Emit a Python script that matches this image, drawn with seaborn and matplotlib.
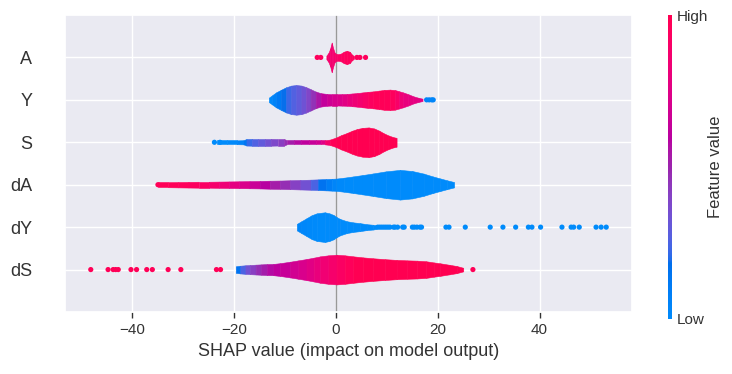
import numpy as np
import pandas as pd
import matplotlib
matplotlib.use("Agg")
import matplotlib.pyplot as plt
from matplotlib.colors import LinearSegmentedColormap, Normalize
from matplotlib.cm import ScalarMappable
import seaborn as sns

# features, top to bottom
features = ["A", "Y", "S", "dA", "dY", "dS"]

# violin outlines: (shap value, relative half width, feature value 0..1)
violin_A = [(-1.9, .12, .9), (-1.5, .3, .88), (-1.15, .6, .86), (-0.85, 1.0, .86),
            (-0.55, .6, .86), (-0.25, .3, .88), (0.2, .22, .9), (0.9, .25, .92),
            (1.5, .38, .94), (2.1, .45, .95), (2.7, .38, .95), (3.1, .2, .95),
            (3.5, .1, .95)]
violin_Y = [(-13.2, .15, .0), (-12.6, .3, .03), (-11.8, .5, .08), (-10.8, .68, .16),
            (-9.8, .85, .21), (-8.8, .96, .25), (-7.8, 1.0, .28), (-6.8, .96, .31),
            (-5.9, .86, .36), (-5.0, .72, .42), (-4.0, .56, .5), (-3.0, .45, .6),
            (-1.8, .4, .66), (-0.8, .38, .69), (0.2, .38, .72), (1.2, .39, .74),
            (2.2, .4, .78), (3.2, .43, .82), (4.2, .46, .85), (5.2, .5, .88),
            (6.2, .54, .92), (7.3, .57, .95), (8.4, .62, .97), (9.5, .67, .97),
            (10.6, .69, .96), (11.6, .66, .94), (12.4, .58, .86), (13.2, .5, .8),
            (14.2, .38, .79), (15.2, .24, .78), (16.2, .14, .77), (17.0, .08, .76)]
violin_S = [(-23.4, .13, .0), (-21.5, .13, .0), (-19.5, .13, .03), (-18.2, .14, .08),
            (-17.6, .22, .2), (-16.5, .23, .24), (-15.3, .23, .28), (-14.0, .23, .32),
            (-12.8, .23, .36), (-11.5, .22, .4), (-10.2, .22, .44), (-9.7, .14, .5),
            (-8.2, .14, .55), (-6.8, .14, .6), (-5.4, .14, .63), (-4.0, .14, .66),
            (-3.0, .14, .7), (-2.2, .14, .8), (-1.2, .18, .95), (0.0, .32, 1),
            (1.0, .48, 1), (2.1, .62, 1), (3.1, .77, 1), (4.1, .89, 1), (5.2, .97, 1),
            (6.4, 1.0, 1), (7.5, .93, 1), (8.5, .78, 1), (9.3, .62, 1), (10.3, .46, 1),
            (11.3, .34, 1), (11.9, .3, 1)]
violin_dA = [(-34.9, .17, .97), (-33, .17, .97), (-31, .18, .96), (-29, .19, .95),
             (-27, .2, .93), (-25, .2, .9), (-23, .21, .86), (-21, .22, .8),
             (-19, .23, .75), (-17, .24, .69), (-15, .25, .62), (-13, .27, .56),
             (-11, .28, .5), (-9, .3, .44), (-7, .32, .38), (-5, .34, .3),
             (-3.5, .36, .2), (-2, .38, .12), (-0.8, .4, .06), (0, .41, .02),
             (1.5, .47, 0), (3.4, .56, 0), (5.2, .65, 0), (7.3, .76, 0), (9.8, .9, 0),
             (12.6, 1.0, 0), (15, .92, 0), (17.2, .75, 0), (19, .56, 0), (20.5, .42, 0),
             (21.8, .3, 0), (23.2, .18, 0)]
violin_dY = [(-7.7, .22, .04), (-6.8, .4, .03), (-5.8, .6, .02), (-4.8, .8, .01),
             (-3.8, .93, 0), (-2.2, 1.0, 0), (-1.3, .93, 0), (-0.5, .82, 0),
             (0.2, .66, 0), (0.8, .55, 0), (2.1, .4, 0), (3.4, .32, 0), (4.7, .27, 0),
             (6.0, .2, 0), (7.3, .16, 0), (8.0, .12, 0)]
violin_dS = [(-19.7, .22, .12), (-18.8, .26, .2), (-17.8, .29, .3), (-16.9, .31, .38),
             (-15.8, .33, .45), (-14.7, .35, .5), (-13.6, .37, .55), (-12.3, .38, .6),
             (-11.0, .43, .62), (-9.0, .53, .67), (-7.4, .62, .7), (-5.8, .71, .73),
             (-4.4, .8, .78), (-3.1, .89, .82), (-1.5, .96, .86), (0.1, 1.0, .9),
             (1.7, .96, .94), (3.4, .89, .98), (5.3, .82, 1), (7.3, .76, 1),
             (9.6, .7, 1), (11.9, .65, 1), (14.0, .62, 1), (15.9, .6, 1),
             (17.7, .56, 1), (19.2, .48, 1), (20.5, .42, 1), (22.3, .32, 1),
             (23.7, .24, 1), (25.0, .12, 1)]

# low density points: (shap value, feature value)
dots_A = [(-3.7, .95), (-3.0, .95), (4.1, .95), (4.7, .95), (5.8, .95)]
dots_Y = [(17.8, .04), (18.3, .04), (18.8, .04), (19.1, .04)]
dots_S = [(-23.9, .0), (-22.8, .0)]
dots_dA = [(-35.0, .97)]
dots_dY = [(8.2, 0), (8.6, 0), (9.0, 0), (9.4, 0), (9.8, 0), (10.2, 0), (10.6, 0),
           (11.3, 0), (11.6, 0), (12.1, 0), (13.1, 0), (13.4, 0), (15.0, 0),
           (15.4, 0), (15.9, 0), (16.5, 0), (16.8, 0), (21.6, 0), (22.2, 0),
           (25.4, 0), (30.3, 0), (32.8, 0), (35.3, 0), (37.8, 0), (38.5, 0),
           (40.2, 0), (44.4, 0), (46.2, 0), (46.7, 0), (47.8, 0), (51.1, 0),
           (52.1, 0), (53.1, 0)]
dots_dS = [(-48.2, .97), (-44.8, .97), (-43.8, .97), (-43.3, .97), (-42.8, .97),
           (-40.3, .97), (-39.2, .97), (-37.2, .97), (-36.1, .97), (-33.0, .97),
           (-30.5, .97), (-23.5, .97), (-22.7, .97), (26.9, .97)]

violins = [violin_A, violin_Y, violin_S, violin_dA, violin_dY, violin_dS]
dots = [dots_A, dots_Y, dots_S, dots_dA, dots_dY, dots_dS]


# shap style red/blue colormap (interpolated in LCH space)
def lch_to_rgb(l, c, h):
    a, b = c * np.cos(h), c * np.sin(h)
    fy = (l + 16) / 116
    fx, fz = fy + a / 500, fy - b / 200
    finv = lambda t: t ** 3 if t > 6 / 29 else 3 * (6 / 29) ** 2 * (t - 4 / 29)
    X, Y, Z = 0.95047 * finv(fx), finv(fy), 1.08883 * finv(fz)
    lin = [3.2406 * X - 1.5372 * Y - 0.4986 * Z,
           -0.9689 * X + 1.8758 * Y + 0.0415 * Z,
           0.0557 * X - 0.2040 * Y + 1.0570 * Z]
    out = [1.055 * v ** (1 / 2.4) - 0.055 if v > 0.0031308 else 12.92 * v for v in lin]
    return tuple(np.clip(out, 0, 1))


n = 100
ls = np.r_[np.linspace(54, 40, n // 2), np.linspace(40, 54, n // 2)]
cs = np.linspace(70, 90, n)
hs = np.linspace(4.6588, 0.35470565 + 2 * np.pi, n)
red_blue = LinearSegmentedColormap.from_list("red_blue", [lch_to_rgb(*v) for v in zip(ls, cs, hs)])

sns.set_theme(style="darkgrid")
plt.rcParams["font.family"] = ["Liberation Sans", "DejaVu Sans"]
axis_color = "#333333"

fig = plt.figure(figsize=(7.32, 3.74), dpi=100)
ax = fig.add_axes([65 / 732, 62 / 374, 567 / 732, 297 / 374])

max_w = 0.35
npos = len(features)
for k, prof in enumerate(violins):
    pos = npos - 1 - k
    for (x0, w0, c0), (x1, w1, c1) in zip(prof[:-1], prof[1:]):
        col = red_blue((c0 + c1) / 2)
        ax.fill_between([x0, x1], [pos - w0 * max_w, pos - w1 * max_w],
                        [pos + w0 * max_w, pos + w1 * max_w],
                        color=col, lw=0.4, zorder=2)

dot_df = pd.DataFrame(
    [(x, npos - 1 - k, c) for k, d in enumerate(dots) for x, c in d],
    columns=["shap", "pos", "value"])
sns.scatterplot(data=dot_df, x="shap", y="pos", hue="value", palette=red_blue,
                hue_norm=(0, 1), s=14, linewidth=0, legend=False, zorder=3, ax=ax)

ax.axvline(0, color="#999999", lw=1, zorder=1)
ax.set_ylim(-1, npos)
ax.set_yticks(range(npos))
ax.set_yticklabels(features[::-1], fontsize=13)
ax.tick_params(axis="y", length=0, pad=23.5, labelcolor=axis_color)
ax.xaxis.set_ticks_position("bottom")
ax.tick_params(axis="x", labelsize=11, length=4.5, width=1, color=axis_color,
               labelcolor=axis_color)
ax.set_xlabel("SHAP value (impact on model output)", fontsize=13, color=axis_color)
ax.set_ylabel("")

cax = fig.add_axes([668 / 732, 55 / 374, 3.5 / 732, 304 / 374])
cb = fig.colorbar(ScalarMappable(norm=Normalize(0, 1), cmap=red_blue), cax=cax, ticks=[0, 1])
cb.set_ticklabels(["Low", "High"])
cb.outline.set_visible(False)
cax.tick_params(labelsize=11, length=0, labelcolor=axis_color)
cb.set_label("Feature value", size=12, labelpad=0, color=axis_color)

fig.savefig("out.png", dpi=100)
